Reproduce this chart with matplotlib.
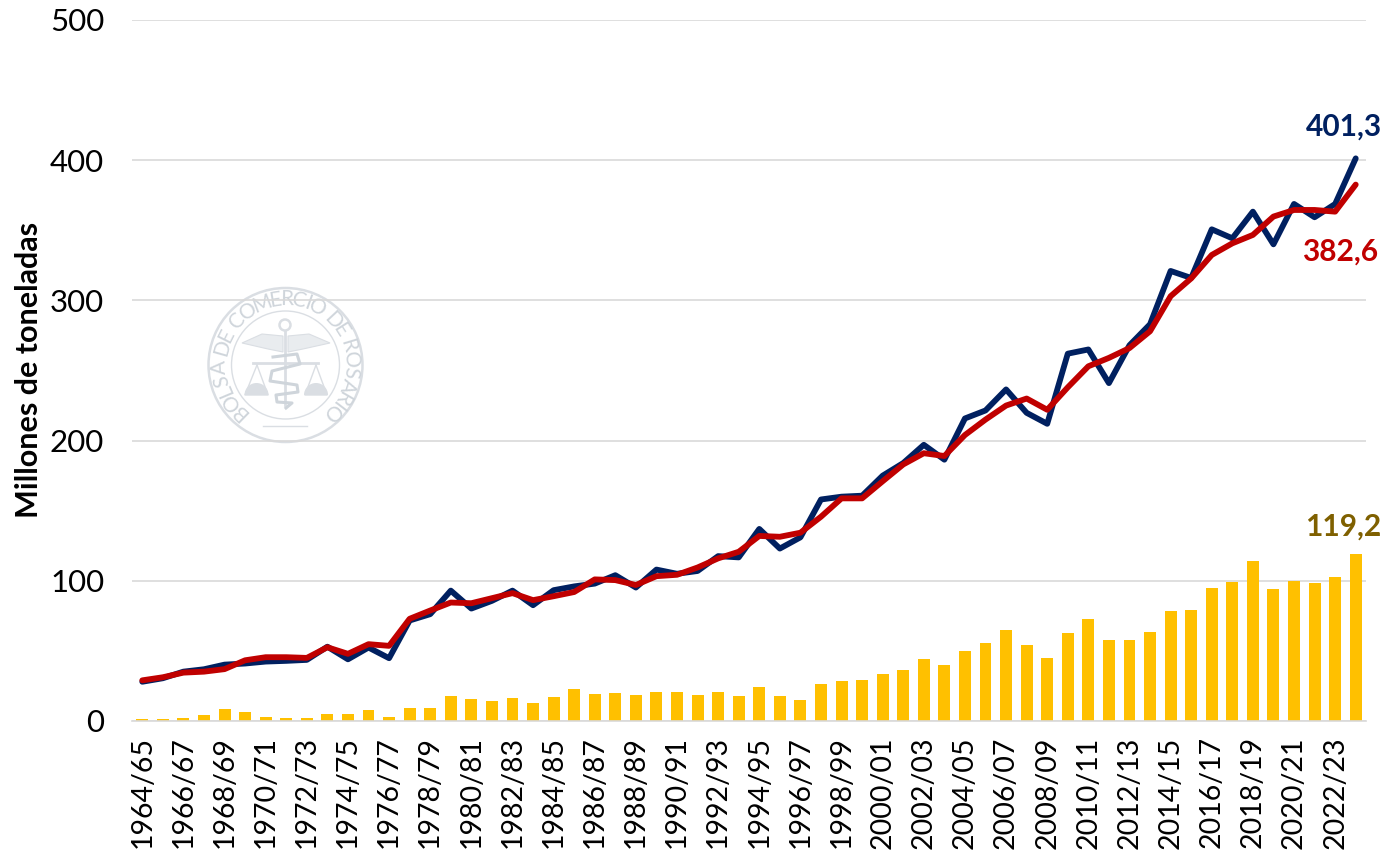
import numpy as np
import matplotlib
matplotlib.use("Agg")
import matplotlib.pyplot as plt
from matplotlib.patches import Circle, Polygon, Wedge
from matplotlib.textpath import TextPath
from matplotlib.font_manager import FontProperties

plt.rcParams['font.family'] = ['Lato', 'DejaVu Sans']

start_years = list(range(1964, 2024))
campaigns = [f"{y}/{str(y + 1)[-2:]}" for y in start_years]

produccion = [28, 30.5, 35.2, 36.9, 40.2, 41, 42.4, 42.9, 43.6, 53,
              44, 52.4, 44.8, 71.7, 76.2, 93, 80.2, 85.7, 93, 82.6,
              93.3, 96, 98, 104, 95.2, 108, 105, 107, 117.6, 116.7,
              137, 123, 131, 158, 160, 160.7, 175, 184, 197, 186.4,
              215.8, 221.5, 236.5, 219.8, 212, 262, 265, 241, 268, 283,
              321, 316, 350.7, 344.3, 363.3, 340, 368.8, 359.3, 368.8, 401.3]
molienda = [29, 31.2, 34.5, 35.2, 37, 43.3, 45.5, 45.5, 45, 52.6,
            47.9, 54.8, 53.6, 72.9, 78.8, 84.5, 84, 87.6, 91.2, 86.2,
            89, 92, 101, 100.5, 97, 103.3, 104.3, 109.5, 116, 120.7,
            132, 131.4, 134.3, 145.7, 158.8, 158.8, 171, 183, 191, 189,
            204, 215, 225, 230, 222, 238, 253, 259, 266, 278,
            303, 315.7, 332.4, 340.7, 346.7, 359.8, 364.5, 364.5, 363.3, 382.6]
exportacion = [1.2, 1.2, 2.4, 4.5, 8.8, 6.7, 3.1, 2.4, 1.9, 5.2,
               5.2, 8.1, 3.1, 9.5, 9.5, 18.1, 16, 14.5, 16.7, 13.1,
               17, 23, 19.5, 20, 18.6, 20.7, 20.7, 18.6, 20.7, 17.9,
               24.3, 17.9, 15, 26.4, 28.6, 29.3, 33.6, 36.4, 44, 40,
               50, 55.5, 64.7, 54.3, 45, 62.6, 73, 57.6, 57.6, 63.3,
               78.8, 79.5, 95, 99.3, 114.3, 94.3, 100, 98.6, 102.9, 119.2]
y_ticks = [0, 100, 200, 300, 400, 500]

W, H = 1385, 859
NAVY, RED, GOLD, BROWN, GRID, MARK = '#002060', '#C00000', '#FFC000', '#7F6000', '#D9D9D9', '#DADEE3'

fig = plt.figure(figsize=(W / 100, H / 100), dpi=100, facecolor='white')

# watermark layer in pixel coordinates
wm = fig.add_axes([0, 0, 1, 1], zorder=0)
wm.set_xlim(0, W)
wm.set_ylim(H, 0)
wm.axis('off')
cx, cy = 285.5, 365
wm.add_patch(Circle((cx, cy), 77, fill=False, ec=MARK, lw=1.8))
wm.add_patch(Circle((cx, cy), 54, fill=False, ec=MARK, lw=1.0))
seal = "BOLSA DE COMERCIO DE ROSARIO"
fp = FontProperties(family='Lato')
widths = [5.0 if c == ' ' else TextPath((0, 0), c, size=15, prop=fp).get_extents().width + 2.0 for c in seal]
edges = np.concatenate([[0], np.cumsum(widths)])
mids = (edges[:-1] + edges[1:]) / 2
angles = 226 - 272 * (mids - mids[0]) / (mids[-1] - mids[0])
for ch, a in zip(seal, angles):
    r = np.radians(a)
    wm.text(cx + 65.5 * np.cos(r), cy - 65.5 * np.sin(r), ch, fontsize=15, color='#CFD5DB',
            rotation=a - 90, rotation_mode='anchor', ha='center', va='center')
wm.add_patch(Circle((285, 325), 5.5, fill=False, ec=MARK, lw=1.8))
wm.plot([285, 285], [331, 405], color=MARK, lw=2)
wm.add_patch(Polygon([(242, 343), (262, 334), (283, 336), (283, 352), (268, 349)], fc='#E9ECEF', ec=MARK, lw=0.8))
wm.add_patch(Polygon([(330, 343), (309, 334), (288, 336), (288, 352), (303, 349)], fc='#E9ECEF', ec=MARK, lw=0.8))
wm.plot([253, 318], [363, 363], color=MARK, lw=2)
wm.plot([257, 245, 268, 257], [365, 395, 395, 365], color=MARK, lw=1)
wm.plot([316, 305, 327, 316], [365, 395, 395, 365], color=MARK, lw=1)
wm.add_patch(Wedge((256.5, 395), 12, 180, 360, fc=MARK, ec='none'))
wm.add_patch(Wedge((316, 395), 12, 180, 360, fc=MARK, ec='none'))
wm.plot([273, 297, 300, 272, 270, 297, 298, 276, 277, 292, 286],
        [357, 354, 364, 371, 381, 385, 392, 395, 402, 403, 408], color='#CFD5DB', lw=2.2)
wm.plot([263, 307], [426, 426], color=MARK, lw=1)

# main chart
left, right, top, bottom = 132, 1366, 20, 721
ax = fig.add_axes([left / W, 1 - bottom / H, (right - left) / W, (bottom - top) / H], zorder=1)
ax.patch.set_alpha(0)
x = np.arange(len(campaigns))
ax.bar(x, exportacion, width=0.58, color=GOLD, zorder=2)
ax.plot(x, produccion, color=NAVY, lw=4.2, solid_joinstyle='round', solid_capstyle='round', zorder=3)
ax.plot(x, molienda, color=RED, lw=4.2, solid_joinstyle='round', solid_capstyle='round', zorder=4)

ax.set_xlim(-0.5, len(campaigns) - 0.5)
ax.set_ylim(0, 500)
ax.set_yticks(y_ticks)
ax.set_xticks(x[::2])
ax.set_xticklabels(campaigns[::2], rotation=90, ha='center', va='top')
ax.tick_params(axis='x', length=0, labelsize=20.5, labelcolor='black', pad=11)
ax.tick_params(axis='y', length=0, labelsize=22.5, labelcolor='black', pad=20)
ax.grid(axis='y', color=GRID, lw=1.2, zorder=1)
ax.set_axisbelow(True)
for s in ['top', 'right', 'left']:
    ax.spines[s].set_visible(False)
ax.spines['bottom'].set_color(GRID)
ax.spines['bottom'].set_linewidth(1.2)
fig.text(29 / W, 1 - 370 / H, "Millones de toneladas", rotation=90, fontsize=22, fontweight='bold',
         ha='center', va='center', color='black')

last = x[-1]
for val, off, col in [(produccion[-1], (18.7, 23), NAVY),
                      (molienda[-1], (16, -48), RED),
                      (exportacion[-1], (18.7, 19.4), BROWN)]:
    ax.annotate(f"{val:.1f}".replace('.', ','), xy=(last, val), xytext=off, textcoords='offset points',
                ha='right', va='center', fontsize=21.5, fontweight='bold', color=col, annotation_clip=False)

fig.savefig('out.png', dpi=100)
